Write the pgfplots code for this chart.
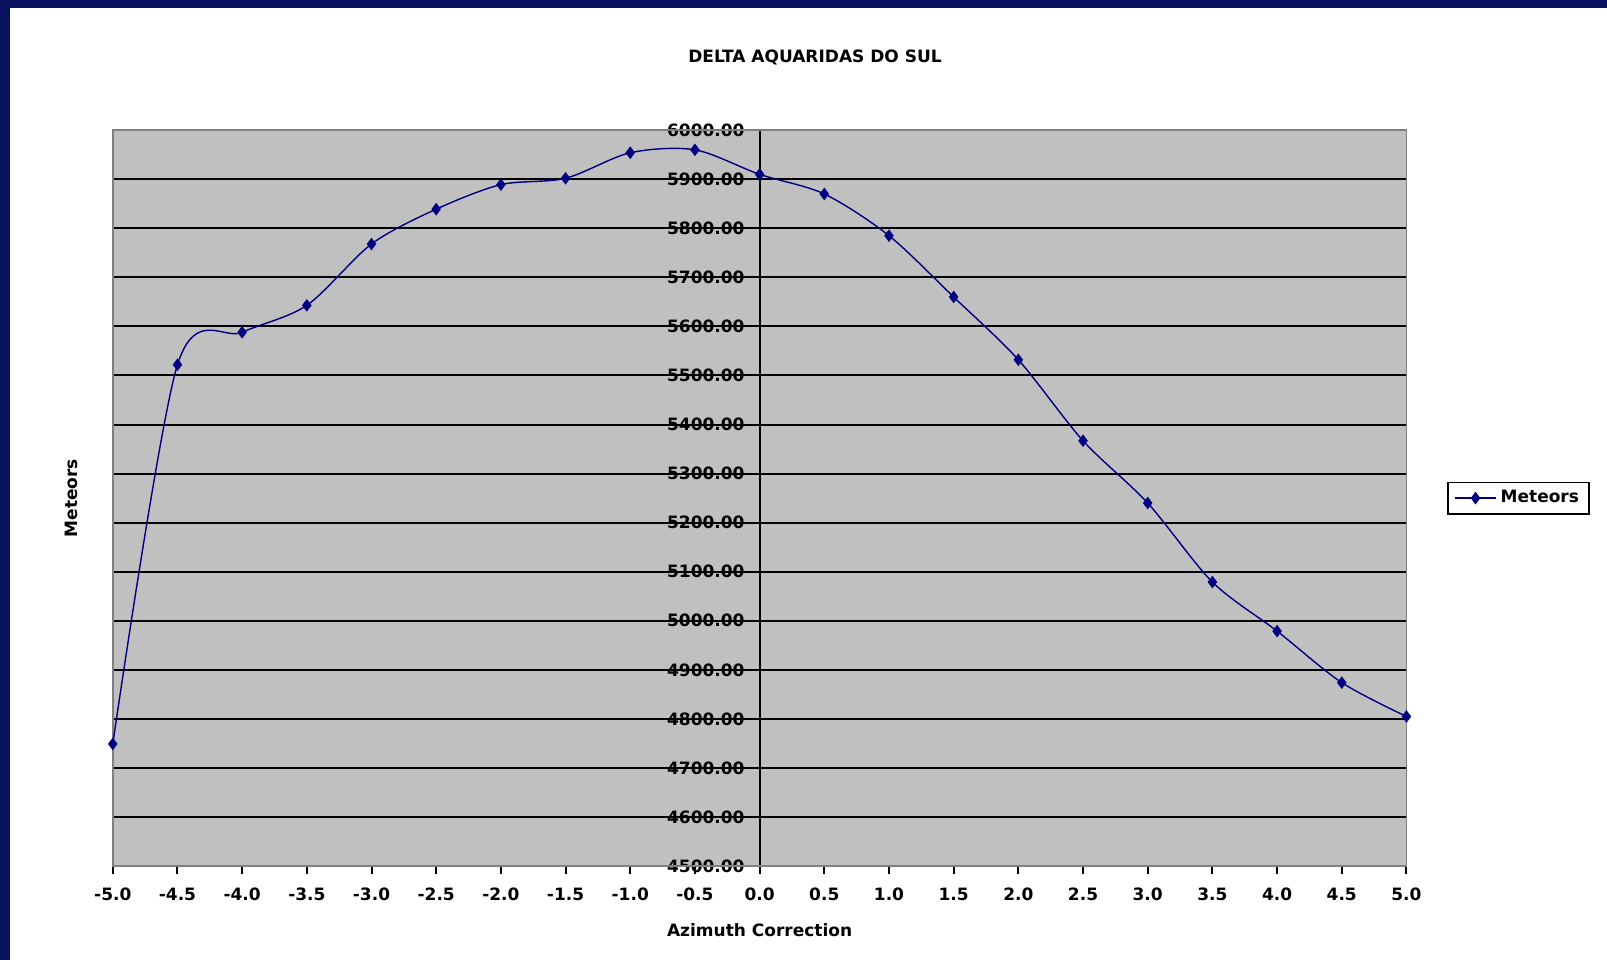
\documentclass[border=0pt]{standalone}
\usepackage{fontspec}
\setmainfont{DejaVu Sans}
\usepackage{pgfplots}
\usepackage{pgfplotstable}
\pgfplotsset{compat=1.18}
\usetikzlibrary{backgrounds}
\definecolor{plotgray}{RGB}{192,192,192}
\definecolor{navyline}{RGB}{0,0,128}
\definecolor{framegray}{RGB}{128,128,128}
\definecolor{bgnavy}{RGB}{8,16,96}

\pgfplotstableread{
x y
-5.0 4749
-4.5 5522
-4.0 5588
-3.5 5643
-3.0 5768
-2.5 5839
-2.0 5889
-1.5 5902
-1.0 5954
-0.5 5960
0.0 5910
0.5 5870
1.0 5785
1.5 5660
2.0 5532
2.5 5367
3.0 5240
3.5 5079
4.0 4979
4.5 4874
5.0 4805
}\datatable

\newcommand{\lbl}{\fontsize{8.5}{10}\selectfont\bfseries}

\begin{document}
\begin{tikzpicture}
\begin{axis}[
  name=ax,
  scale only axis, width=646.9pt, height=368pt,
  xmin=-5, xmax=5, ymin=4500, ymax=6000,
  axis x line=bottom, axis y line=center,
  hide obscured y ticks=false,
  axis line style={-, black, line width=1pt},
  axis background/.style={fill=plotgray},
  xtick={-5,-4.5,-4,-3.5,-3,-2.5,-2,-1.5,-1,-0.5,0,0.5,1,1.5,2,2.5,3,3.5,4,4.5,5},
  ytick={4500,4600,4700,4800,4900,5000,5100,5200,5300,5400,5500,5600,5700,5800,5900,6000},
  ymajorgrids, grid style={black, line width=1pt},
  tick align=outside,
  major tick length=4pt,
  x tick style={black, line width=1pt},
  y tick style={draw=none},
  /pgf/number format/assume math mode=true,
  tick label style={font=\lbl},
  x tick label style={yshift=-3.5pt, /pgf/number format/.cd, fixed, fixed zerofill, precision=1},
  y tick label style={xshift=0pt, /pgf/number format/.cd, fixed, fixed zerofill, precision=2, 1000 sep={}},
  title={DELTA AQUARIDAS DO SUL},
  title style={at={(rel axis cs:0.5,1)}, anchor=center, xshift=27.7pt, yshift=30.3pt, font=\lbl},
  xlabel={Azimuth Correction},
  xlabel style={font=\lbl, yshift=-4.5pt},
  ylabel={Meteors},
  every axis y label/.style={at={(rel axis cs:0,0.5)}, anchor=south, rotate=90, yshift=14pt, font=\lbl},
  legend style={at={(rel axis cs:1,0.5)}, anchor=west, xshift=20.5pt, draw=black, line width=0.9pt, font=\lbl, inner xsep=3pt, inner ysep=2pt},
  legend image code/.code={%
    \draw[mark repeat=2, mark phase=2, line width=0.7pt] plot coordinates {(0cm,0cm) (0.36cm,0cm) (0.72cm,0cm)};},
  legend cell align=left,
  clip=false,
]
\draw[framegray, line width=0.8pt] (rel axis cs:0,0) rectangle (rel axis cs:1,1);
\addplot[navyline, line width=0.7pt, smooth, mark=diamond*, mark size=2.6pt, mark options={fill=navyline, draw=navyline}] table[x=x, y=y] {\datatable};
\addlegendentry{Meteors}
\end{axis}
\begin{scope}[on background layer]
\path (ax.south west) ++(-56.4pt,-46.9pt) coordinate (BL);
\path (ax.north east) ++(100.3pt,65.1pt) coordinate (TR);
\fill[bgnavy] (BL) rectangle (TR);
\fill[white] ([xshift=5.1pt]BL) rectangle ([yshift=-4.1pt]TR);
\end{scope}
\end{tikzpicture}
\end{document}
